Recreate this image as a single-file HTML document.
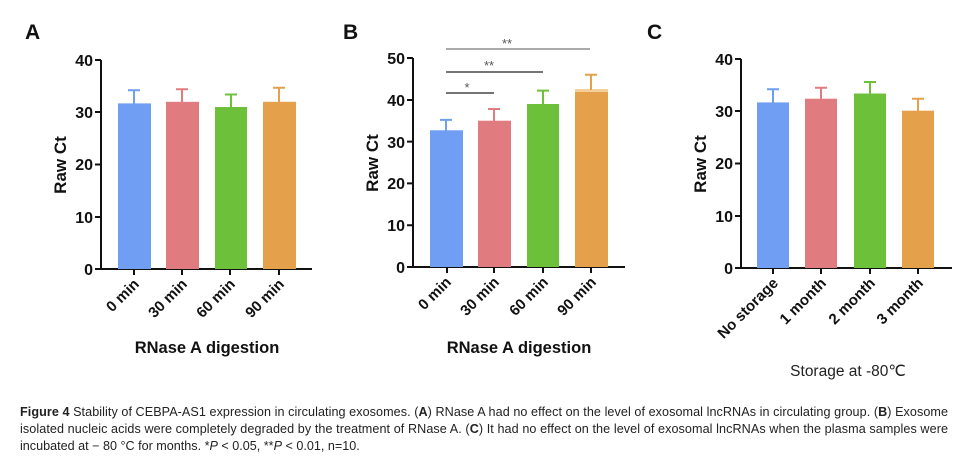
<!DOCTYPE html>
<html><head><meta charset="utf-8"><style>
body{margin:0;background:#fff;width:972px;height:464px;overflow:hidden}
svg{display:block}
.t{font-family:"Liberation Sans",Arial,sans-serif;font-weight:bold;fill:#111}
.cap{font-family:"Liberation Sans",sans-serif;font-size:12.6px;fill:#222}
</style></head><body>
<svg width="972" height="464" viewBox="0 0 972 464" xmlns="http://www.w3.org/2000/svg">
<!-- Panel A -->
<text class="t" x="25" y="39" font-size="21">A</text>
<g stroke="#111" stroke-width="2" fill="none">
<path d="M101 60V269H312"/>
<path d="M95 60H101M95 112H101M95 164.5H101M95 217H101M95 269H101"/>
<path d="M134 269v6M182 269v6M230 269v6M279 269v6"/>
</g>
<g class="t" font-size="16" text-anchor="end">
<text x="93" y="66">40</text><text x="93" y="118">30</text><text x="93" y="170">20</text><text x="93" y="223">10</text><text x="93" y="275">0</text>
</g>
<text class="t" font-size="17" text-anchor="middle" transform="translate(66,165) rotate(-90)">Raw Ct</text>
<rect x="118" y="103.4" width="33" height="165.6" fill="#6f9ef2"/>
<rect x="166" y="101.8" width="33" height="167.2" fill="#e07c80"/>
<rect x="215" y="107" width="32" height="162" fill="#6cc03a"/>
<rect x="263" y="101.8" width="33" height="167.2" fill="#e5a04b"/>
<g stroke-width="2" fill="none">
<path d="M134 104V90.3M128 90.3H140" stroke="#6f9ef2"/>
<path d="M182 102V89.3M176 89.3H188" stroke="#e07c80"/>
<path d="M231 107V94.5M225 94.5H237" stroke="#6cc03a"/>
<path d="M279 102V87.7M273 87.7H285" stroke="#e5a04b"/>
</g>
<g class="t" font-size="15" text-anchor="end">
<text transform="translate(140,285) rotate(-45)">0 min</text>
<text transform="translate(188,285) rotate(-45)">30 min</text>
<text transform="translate(236,285) rotate(-45)">60 min</text>
<text transform="translate(285,285) rotate(-45)">90 min</text>
</g>
<text class="t" x="207" y="353" font-size="16.5" text-anchor="middle">RNase A digestion</text>

<!-- Panel B -->
<text class="t" x="343" y="39" font-size="21">B</text>
<g stroke="#111" stroke-width="2" fill="none">
<path d="M413 58V267H625"/>
<path d="M407 58H413M407 100H413M407 141.6H413M407 183.4H413M407 225.2H413M407 267H413"/>
<path d="M447 267v6M494 267v6M543 267v6M591 267v6"/>
</g>
<g class="t" font-size="16" text-anchor="end">
<text x="405" y="64">50</text><text x="405" y="106">40</text><text x="405" y="148">30</text><text x="405" y="189">20</text><text x="405" y="231">10</text><text x="405" y="273">0</text>
</g>
<text class="t" font-size="17" text-anchor="middle" transform="translate(378,163) rotate(-90)">Raw Ct</text>
<rect x="430" y="130.3" width="33" height="136.7" fill="#6f9ef2"/>
<rect x="478" y="120.7" width="33" height="146.3" fill="#e07c80"/>
<rect x="527" y="104" width="32" height="163" fill="#6cc03a"/>
<rect x="575" y="90.2" width="33" height="176.8" fill="#e5a04b"/>
<rect x="575" y="89" width="33" height="3" fill="#f3cf9c"/>
<g stroke-width="2" fill="none">
<path d="M446 131V119.9M440 119.9H452" stroke="#6f9ef2"/>
<path d="M494 121V109M488 109H500" stroke="#e07c80"/>
<path d="M543 104V90.6M537 90.6H549" stroke="#6cc03a"/>
<path d="M591 90V74.7M585 74.7H597" stroke="#e5a04b"/>
</g>
<g fill="none" stroke-width="1.3">
<path d="M446 49H590" stroke="#777"/>
<path d="M446 72H543" stroke="#222"/>
<path d="M446 93H494" stroke="#222"/>
</g>
<g font-family="Liberation Sans,sans-serif" font-size="13" fill="#555" text-anchor="middle">
<text x="507" y="48">**</text><text x="489" y="70">**</text><text x="467" y="92">*</text>
</g>
<g class="t" font-size="15" text-anchor="end">
<text transform="translate(452,283) rotate(-45)">0 min</text>
<text transform="translate(500,283) rotate(-45)">30 min</text>
<text transform="translate(549,283) rotate(-45)">60 min</text>
<text transform="translate(597,283) rotate(-45)">90 min</text>
</g>
<text class="t" x="519" y="353" font-size="16.5" text-anchor="middle">RNase A digestion</text>

<!-- Panel C -->
<text class="t" x="647" y="39" font-size="21">C</text>
<g stroke="#111" stroke-width="2" fill="none">
<path d="M741 59V268H952"/>
<path d="M735 59H741M735 111H741M735 163.5H741M735 216H741M735 268H741"/>
<path d="M773 268v6M821 268v6M870 268v6M918 268v6"/>
</g>
<g class="t" font-size="16" text-anchor="end">
<text x="733" y="65">40</text><text x="733" y="117">30</text><text x="733" y="169">20</text><text x="733" y="222">10</text><text x="733" y="274">0</text>
</g>
<text class="t" font-size="17" text-anchor="middle" transform="translate(706,164) rotate(-90)">Raw Ct</text>
<rect x="757" y="102.4" width="32" height="165.6" fill="#6f9ef2"/>
<rect x="805" y="98.7" width="32" height="169.3" fill="#e07c80"/>
<rect x="854" y="93.5" width="32" height="174.5" fill="#6cc03a"/>
<rect x="902" y="110.7" width="32" height="157.3" fill="#e5a04b"/>
<g stroke-width="2" fill="none">
<path d="M773 103V89.3M767 89.3H779" stroke="#6f9ef2"/>
<path d="M821 99V87.7M815 87.7H827" stroke="#e07c80"/>
<path d="M870 94V82M864 82H876" stroke="#6cc03a"/>
<path d="M918 111V98.7M912 98.7H924" stroke="#e5a04b"/>
</g>
<g class="t" font-size="15" text-anchor="end">
<text transform="translate(779,284) rotate(-45)">No storage</text>
<text transform="translate(827,284) rotate(-45)">1 month</text>
<text transform="translate(876,284) rotate(-45)">2 month</text>
<text transform="translate(924,284) rotate(-45)">3 month</text>
</g>
<text x="848" y="376" font-family="Liberation Sans,sans-serif" font-size="15.5" fill="#222" text-anchor="middle">Storage at -80℃</text>

<!-- Caption -->
<text class="cap" x="20" y="416" textLength="928" lengthAdjust="spacing"><tspan font-weight="bold">Figure 4</tspan> Stability of CEBPA-AS1 expression in circulating exosomes. (<tspan font-weight="bold">A</tspan>) RNase A had no effect on the level of exosomal lncRNAs in circulating group. (<tspan font-weight="bold">B</tspan>) Exosome</text>
<text class="cap" x="20" y="433" textLength="928" lengthAdjust="spacing">isolated nucleic acids were completely degraded by the treatment of RNase A. (<tspan font-weight="bold">C</tspan>) It had no effect on the level of exosomal lncRNAs when the plasma samples were</text>
<text class="cap" x="20" y="450">incubated at − 80 °C for months. *<tspan font-style="italic">P</tspan> &lt; 0.05, **<tspan font-style="italic">P</tspan> &lt; 0.01, n=10.</text>
</svg>
</body></html>
